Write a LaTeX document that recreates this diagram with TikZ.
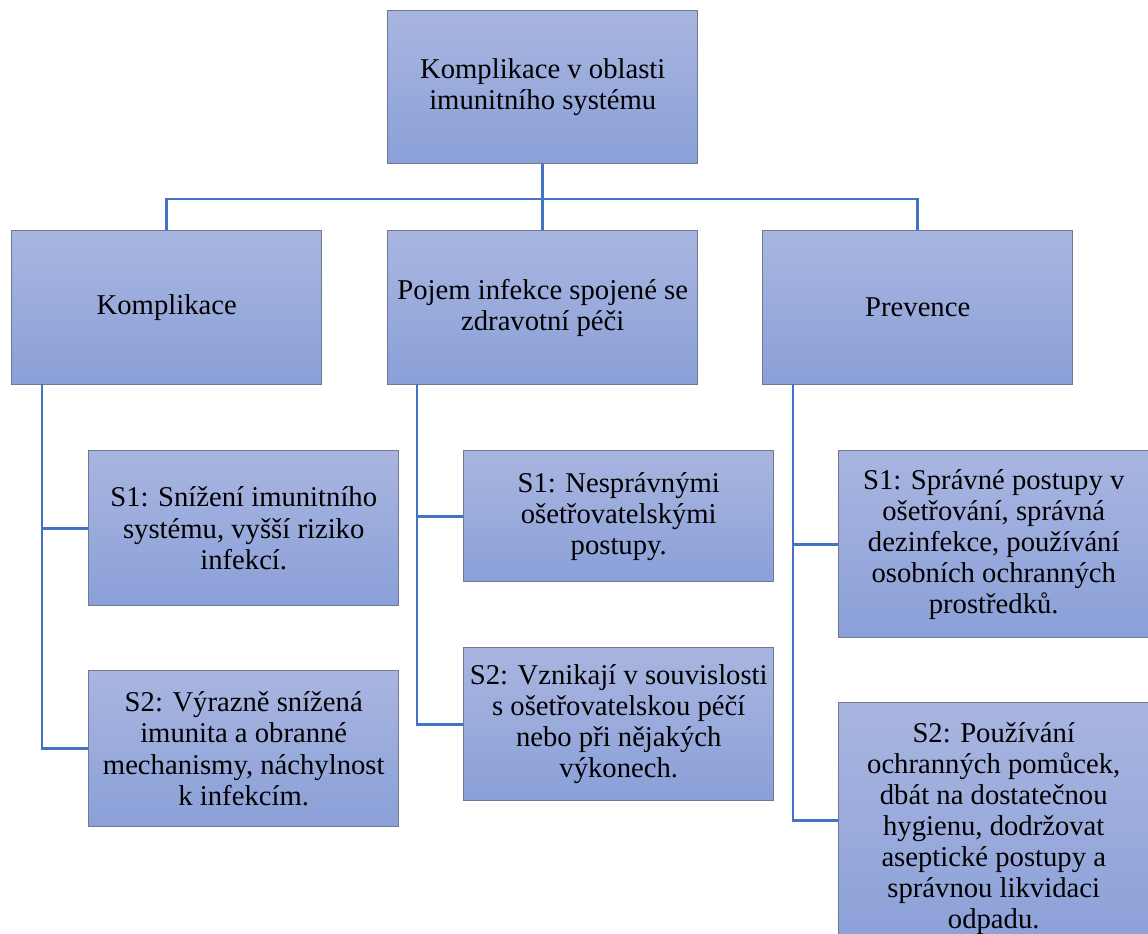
\documentclass[tikz,border=0pt]{standalone}
\usepackage{fontspec}
\setmainfont{Liberation Serif}
\usetikzlibrary{shadings}
\definecolor{boxtop}{HTML}{A9B5E0}
\definecolor{boxbottom}{HTML}{8AA0D8}
\definecolor{boxline}{HTML}{6F7A92}
\definecolor{linkcol}{HTML}{4472C4}
\tikzset{
  card/.style={draw=boxline, line width=1.1pt, top color=boxtop, bottom color=boxbottom,
    anchor=north west, inner sep=0pt, align=center, minimum width=232.5pt,
    font=\fontsize{21.5pt}{23.3pt}\selectfont},
  link/.style={draw=linkcol, line width=2pt},
}
\begin{document}
\begin{tikzpicture}[x=0.75pt, y=-0.75pt]
  \fill[white] (0,0) rectangle (1148,933);
  \useasboundingbox (0,0) rectangle (1148,933);
  \clip (0,0) rectangle (1148,933);

  % root
  \node[card, minimum height=114.75pt] (root) at (387,10) {Komplikace v oblasti\\imunitního systému};

  % first level
  \node[card, minimum height=115.5pt] (kompl) at (11,230) {Komplikace};
  \node[card, minimum height=115.5pt] (pojem) at (387,230) {Pojem infekce spojené se\\zdravotní péči};
  \node[card, minimum height=115.5pt] (prev) at (762,230) {Prevence};

  % level 1 bus
  \coordinate (bus) at (541,199);
  \draw[link] (root.south) -- (root.south |- bus);
  \draw[link] (kompl.north) -- (kompl.north |- bus) -- (prev.north |- bus) -- (prev.north);
  \draw[link] (pojem.north) -- (pojem.north |- bus);

  % second level
  \node[card, minimum height=116.25pt] (a1) at (88,450) {S1: Snížení imunitního\\systému, vyšší riziko\\infekcí.};
  \node[card, minimum height=117pt] (a2) at (88,670) {S2: Výrazně snížená\\imunita a obranné\\mechanismy, náchylnost\\k infekcím.};
  \node[card, minimum height=98.25pt] (b1) at (463,450) {S1: Nesprávnými\\ošetřovatelskými\\postupy.};
  \node[card, minimum height=114.75pt] (b2) at (463,647) {S2: Vznikají v souvislosti\\s ošetřovatelskou péčí\\nebo při nějakých\\výkonech.};
  \node[card, minimum height=140.25pt] (c1) at (838,450) {S1: Správné postupy v\\ošetřování, správná\\dezinfekce, používání\\osobních ochranných\\prostředků.};
  \node[card, minimum height=189pt] (c2) at (838,702) {S2: Používání\\ochranných pomůcek,\\dbát na dostatečnou\\hygienu, dodržovat\\aseptické postupy a\\správnou likvidaci\\odpadu.};

  % trunks under the first level
  \coordinate (ka) at (42,384);
  \coordinate (pa) at (417,384);
  \coordinate (va) at (793,384);
  \draw[link] (ka) |- (a1.west);
  \draw[link] (ka) |- (a2.west);
  \draw[link] (pa) |- (b1.west);
  \draw[link] (pa) |- (b2.west);
  \draw[link] (va) |- (c1.west);
  \draw[link] (va) |- ([yshift=6pt]c2.west);
\end{tikzpicture}
\end{document}
